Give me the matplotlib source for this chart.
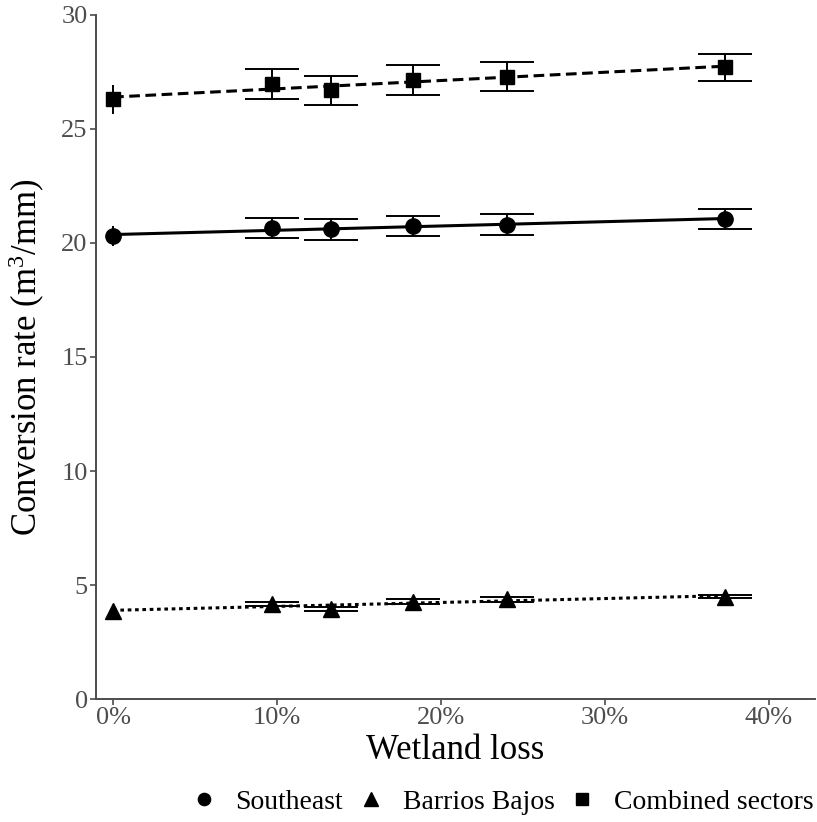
import numpy as np
import matplotlib.pyplot as plt
from matplotlib.ticker import PercentFormatter
from matplotlib.lines import Line2D

plt.rcParams['font.family'] = ['Liberation Serif', 'DejaVu Serif']
plt.rcParams['mathtext.fontset'] = 'custom'
plt.rcParams['mathtext.rm'] = 'Liberation Serif'
plt.rcParams['mathtext.it'] = 'Liberation Serif:italic'

# wetland loss scenarios (fraction)
wetland_loss = [0.0, 0.097, 0.133, 0.183, 0.240, 0.373]

southeast = [20.3, 20.65, 20.6, 20.75, 20.8, 21.05]
southeast_err = [0.45, 0.45, 0.45, 0.43, 0.45, 0.45]

barrios = [3.86, 4.17, 3.95, 4.27, 4.37, 4.49]
barrios_err = [0.03, 0.10, 0.10, 0.10, 0.10, 0.08]

combined = [26.3, 26.97, 26.7, 27.15, 27.3, 27.7]
combined_err = [0.65, 0.65, 0.64, 0.64, 0.62, 0.6]

series = [
    ('Southeast', southeast, southeast_err, 'o', '-', 11),
    ('Barrios Bajos', barrios, barrios_err, '^', (0, (1.2, 1.2)), 12),
    ('Combined sectors', combined, combined_err, 's', (0, (3.5, 1.8)), 10.5),
]

grey = '#4D4D4D'

fig = plt.figure(figsize=(8.17, 8.22), dpi=100)
ax = fig.add_axes([0.1175, 0.1496, 0.88, 0.8322])

x = np.array(wetland_loss)
handles = []
for name, vals, err, mk, ls, ms in series:
    y = np.array(vals)
    # linear fit through each sector
    slope, icpt = np.polyfit(x, y, 1)
    ax.plot(x, icpt + slope * x, color='black', lw=2.2, ls=ls, zorder=2)
    # first point drawn without caps
    ax.errorbar(x[:1], y[:1], yerr=err[:1], fmt='none', ecolor='black',
                elinewidth=1.4, capsize=0, zorder=3)
    ax.errorbar(x[1:], y[1:], yerr=err[1:], fmt='none', ecolor='black',
                elinewidth=1.4, capsize=19.5, capthick=1.4, zorder=3)
    ax.plot(x, y, ls='none', marker=mk, ms=ms, color='black', zorder=4)
    handles.append(Line2D([], [], ls='none', marker=mk, ms=ms * 0.8,
                          color='black', label=name))

ax.set_xlim(-0.0104, 0.428)
ax.set_ylim(0, 30)
ax.set_xticks([0, 0.1, 0.2, 0.3, 0.4])
ax.set_yticks([0, 5, 10, 15, 20, 25, 30])
ax.xaxis.set_major_formatter(PercentFormatter(1.0, decimals=0))

for side in ['top', 'right']:
    ax.spines[side].set_visible(False)
for side in ['left', 'bottom']:
    ax.spines[side].set_color(grey)
    ax.spines[side].set_linewidth(1.4)
ax.tick_params(colors=grey, labelcolor=grey, labelsize=19, length=4,
               width=1.2, pad=2)

ax.set_xlabel('Wetland loss', fontsize=25, labelpad=3)
ax.set_ylabel('Conversion rate (m$^3$/mm)', fontsize=25, labelpad=10)

fig.legend(handles=handles, loc='lower right', ncol=3, frameon=False,
           fontsize=20, bbox_to_anchor=(1.027, -0.022), handlelength=0.8,
           handletextpad=0.75, columnspacing=0.6)

fig.savefig('out.png', dpi=100)
